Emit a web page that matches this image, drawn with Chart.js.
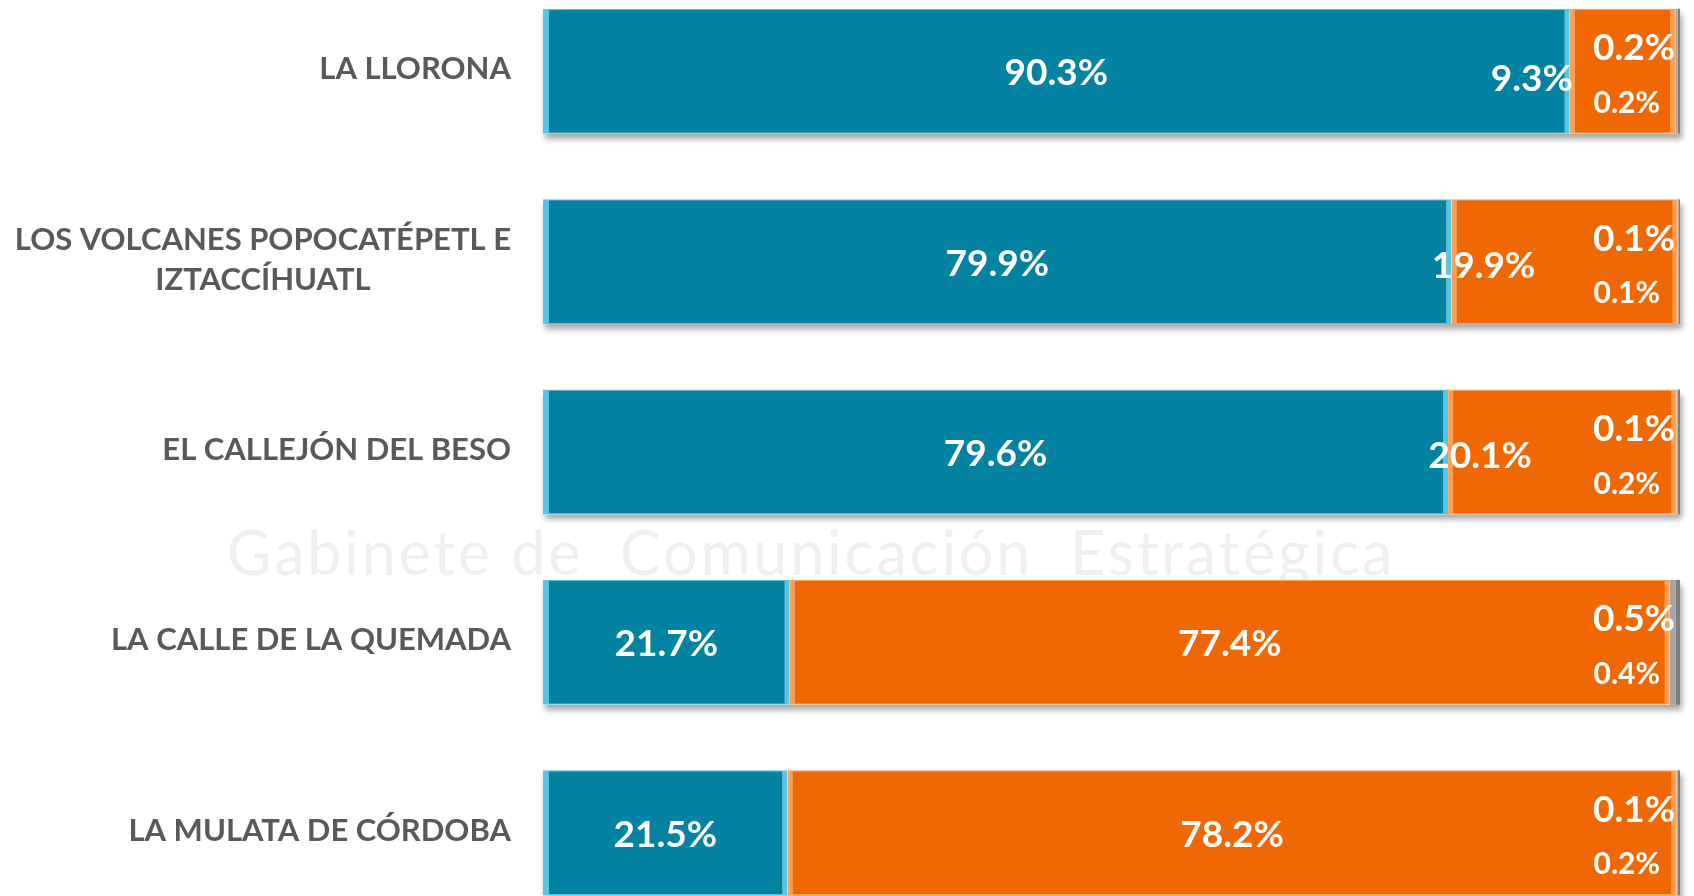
<!DOCTYPE html>
<html>
<head>
<meta charset="utf-8">
<script src="https://cdn.jsdelivr.net/npm/chart.js@4.4.1/dist/chart.umd.min.js"></script>
<style>
  html, body { margin: 0; padding: 0; background: #fff; overflow: hidden; width: 1694px; height: 896px; }
  #marca { position: absolute; left: 227px; top: 515px; font-family: Lato, sans-serif; font-size: 61px; color: #efefef; white-space: pre; letter-spacing: 2.8px; }
  #grafica { position: absolute; left: 0; top: -24px; }
</style>
</head>
<body>
<div id="marca">Gabinete de  Comunicación  Estratégica</div>
<canvas id="grafica" width="1694" height="952"></canvas>
<script>
// Leyendas - percepción por historia (100% apilado)

const categorias = [
    ['LA LLORONA'],
    ['LOS VOLCANES POPOCATÉPETL E', 'IZTACCÍHUATL'],
    ['EL CALLEJÓN DEL BESO'],
    ['LA CALLE DE LA QUEMADA'],
    ['LA MULATA DE CÓRDOBA']
];
const serieAzul = [90.3, 79.9, 79.6, 21.7, 21.5];
const serieNaranja = [9.3, 19.9, 20.1, 77.4, 78.2];
const serieGris1 = [0.2, 0.1, 0.1, 0.5, 0.1];
const serieGris2 = [0.2, 0.1, 0.2, 0.4, 0.2];

const FUENTE = 'Lato, "Open Sans", sans-serif';

// sombra bajo cada barra completa
const sombraPlugin = {
    id: 'sombra',
    beforeDatasetsDraw(chart) {
        const ctx = chart.ctx;
        const meta = chart.getDatasetMeta(0);
        const xs = chart.scales.x;
        ctx.save();
        ctx.shadowColor = 'rgba(0,0,0,0.35)';
        ctx.shadowOffsetX = 2;
        ctx.shadowOffsetY = 5;
        ctx.shadowBlur = 6;
        ctx.fillStyle = '#ffffff';
        meta.data.forEach(bar => {
            const { y, height } = bar.getProps(['y', 'height'], true);
            ctx.fillRect(xs.getPixelForValue(0), y - height / 2, xs.getPixelForValue(100) - xs.getPixelForValue(0), height);
        });
        ctx.restore();
    }
};

// etiquetas de valores
const etiquetasPlugin = {
    id: 'etiquetas',
    afterDatasetsDraw(chart) {
        const ctx = chart.ctx;
        const area = chart.chartArea;
        ctx.save();
        ctx.fillStyle = '#ffffff';
        ctx.textBaseline = 'middle';
        chart.data.datasets.forEach((ds, d) => {
            const meta = chart.getDatasetMeta(d);
            meta.data.forEach((bar, i) => {
                const v = ds.data[i];
                const txt = v.toFixed(1) + '%';
                const { x, y, base } = bar.getProps(['x', 'y', 'base'], true);
                if (d === 0) {
                    ctx.font = 'bold 37px ' + FUENTE;
                    ctx.textAlign = 'center';
                    ctx.fillText(txt, (base + x) / 2, y + 2);
                } else if (d === 1) {
                    ctx.font = 'bold 37px ' + FUENTE;
                    if (v < 10) {
                        ctx.textAlign = 'right';
                        ctx.fillText(txt, base + 3, y + 8);
                    } else if (v < 50) {
                        ctx.textAlign = 'center';
                        ctx.fillText(txt, base + 32, y + 4);
                    } else {
                        ctx.textAlign = 'center';
                        ctx.fillText(txt, (base + x) / 2, y + 2);
                    }
                } else if (d === 2) {
                    ctx.font = 'bold 37px ' + FUENTE;
                    ctx.textAlign = 'right';
                    ctx.fillText(txt, area.right - 5, y - 23);
                } else {
                    ctx.font = 'bold 30px ' + FUENTE;
                    ctx.textAlign = 'right';
                    ctx.fillText(txt, area.right - 20, y + 32);
                }
            });
        });
        ctx.restore();
    }
};

// nombres de categoría: bloque alineado a la derecha, líneas centradas
const categoriasPlugin = {
    id: 'categorias',
    afterDraw(chart) {
        const ctx = chart.ctx;
        const ys = chart.scales.y;
        const derecha = chart.chartArea.left - 32;
        ctx.save();
        ctx.font = 'bold 31px ' + FUENTE;
        ctx.fillStyle = '#595959';
        ctx.textAlign = 'center';
        ctx.textBaseline = 'middle';
        categorias.forEach((lineas, i) => {
            const yc = ys.getPixelForTick(i);
            const ancho = Math.max(...lineas.map(l => ctx.measureText(l).width));
            const xc = derecha - ancho / 2;
            const alto = 40;
            lineas.forEach((l, k) => {
                ctx.fillText(l, xc, yc - 2 + (k - (lineas.length - 1) / 2) * alto);
            });
        });
        ctx.restore();
    }
};

const ctx = document.getElementById('grafica').getContext('2d');
new Chart(ctx, {
    type: 'bar',
    data: {
        labels: categorias,
        datasets: [
            {
                label: 'Azul',
                data: serieAzul,
                backgroundColor: '#0382a1',
                borderColor: '#56c6e4',
                borderWidth: { left: 6, right: 5, top: 1, bottom: 1 },
                borderSkipped: false
            },
            {
                label: 'Naranja',
                data: serieNaranja,
                backgroundColor: '#f06803',
                borderColor: '#ff9f4f',
                borderWidth: { left: 5, right: 5, top: 1, bottom: 1 },
                borderSkipped: false
            },
            {
                label: 'Gris 1',
                data: serieGris1,
                backgroundColor: '#a5a5a5',
                borderWidth: 0
            },
            {
                label: 'Gris 2',
                data: serieGris2,
                backgroundColor: '#7f7f7f',
                borderWidth: 0
            }
        ]
    },
    options: {
        indexAxis: 'y',
        responsive: false,
        animation: false,
        categoryPercentage: 0.656,
        barPercentage: 1,
        layout: { padding: { left: 0, right: 14, top: 0, bottom: 0 } },
        plugins: {
            legend: { display: false },
            tooltip: { enabled: false }
        },
        scales: {
            x: {
                stacked: true,
                min: 0,
                max: 100,
                display: false
            },
            y: {
                stacked: true,
                grid: { display: false },
                border: { display: false },
                ticks: { display: false },
                afterFit(scale) { scale.width = 543; }
            }
        }
    },
    plugins: [sombraPlugin, etiquetasPlugin, categoriasPlugin]
});
</script>
</body>
</html>
